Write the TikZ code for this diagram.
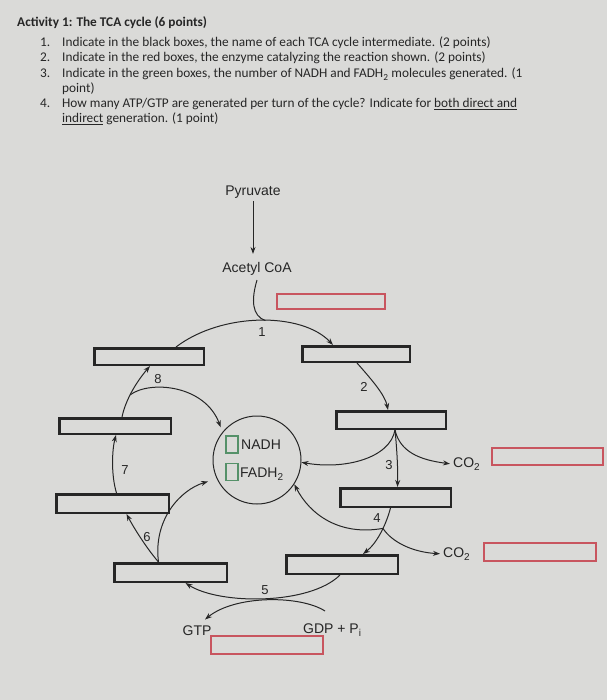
\documentclass[tikz,border=0pt]{standalone}
\usepackage{fontspec}
\setmainfont{Carlito}
\newfontfamily\hv{Liberation Sans}
\usetikzlibrary{arrows.meta}
\definecolor{bg}{RGB}{218,218,216}
\definecolor{ink}{RGB}{38,38,38}
\definecolor{redb}{RGB}{200,85,95}
\definecolor{greenb}{RGB}{85,145,105}
\newcommand{\lowsub}[1]{\raisebox{-0.45ex}{\fontsize{10}{10}\selectfont #1}}
\begin{document}
\begin{tikzpicture}[x=1pt,y=-1pt,
  hdr/.style={anchor=base west, inner sep=0pt, font=\fontsize{13.3}{15}\selectfont, text=ink},
  bx/.style 2 args={draw=ink, line width=2.5pt, inner sep=0pt, minimum width=#1, minimum height=#2},
  rbx/.style 2 args={draw=redb, line width=2.2pt, inner sep=0pt, minimum width=#1, minimum height=#2},
  gbx/.style={draw=greenb, line width=1.8pt, inner sep=0pt, minimum width=12pt, minimum height=17pt},
  txt/.style={font=\hv\fontsize{14}{16}\selectfont, text=ink},
  lab/.style={font=\hv\fontsize{13}{15}\selectfont, text=ink, inner sep=1pt},
  arr/.style={draw=ink, line width=1pt, -{Stealth[length=7pt,width=5pt]}},
  ln/.style={draw=ink, line width=1pt}]
\fill[bg] (0,0) rectangle (607,700);
\useasboundingbox (0,0) rectangle (607,700);

% header
\node[hdr, font=\bfseries\fontsize{13.3}{15}\selectfont] (title) at (17,27) {Activity 1: The TCA cycle (6 points)};
\node[hdr] (n1) at (40,47) {1.};
\node[hdr] (t1) at (62,47) {Indicate in the black boxes, the name of each TCA cycle intermediate. (2 points)};
\node[hdr] (n2) at (40,62) {2.};
\node[hdr] (t2) at (62,62) {Indicate in the red boxes, the enzyme catalyzing the reaction shown. (2 points)};
\node[hdr] (n3) at (40,78) {3.};
\node[hdr] (t3) at (62,78) {Indicate in the green boxes, the number of NADH and FADH\textsubscript{2} molecules generated. (1};
\node[hdr] (t3b) at (62,93) {point)};
\node[hdr] (n4) at (40,108) {4.};
\node[hdr] (t4) at (62,108) {How many ATP/GTP are generated per turn of the cycle? Indicate for \underline{both direct and}};
\node[hdr] (t4b) at (62,123) {\underline{indirect} generation. (1 point)};

% texts
\node[txt] (pyr) at (253,192) {Pyruvate};
\node[txt] (acoa) at (257,269) {Acetyl CoA};

% black boxes
\node[bx={109.5pt}{16.5pt}] (oaa) at (149,356.5) {};
\node[bx={107.5pt}{15.5pt}] (cit) at (356,354) {};
\node[bx={109.5pt}{17.5pt}] (icit) at (391,420) {};
\node[bx={110.5pt}{18.5pt}] (akg) at (395.5,497.5) {};
\node[bx={111.5pt}{18.5pt}] (scoa) at (342,564.5) {};
\node[bx={112.5pt}{18.5pt}] (succ) at (170.5,572.5) {};
\node[bx={112.5pt}{18.5pt}] (fum) at (112.5,503.5) {};
\node[bx={111.5pt}{15.5pt}] (mal) at (115,426) {};

% red boxes
\node[rbx={108pt}{15pt}] (r1) at (331,301.5) {};
\node[rbx={111pt}{17pt}] (r2) at (547.5,456.5) {};
\node[rbx={112pt}{18pt}] (r3) at (540,552) {};
\node[rbx={112pt}{18pt}] (r4) at (267,645) {};

% circle with green boxes
\node[circle, draw=ink, line width=1pt, minimum size=88pt, inner sep=0pt] (circ) at (257,460) {};
\node[gbx] (g1) at (232,444.5) {};
\node[gbx] (g2) at (232,472) {};
\node[txt, anchor=base west, inner sep=0pt] (nadh) at (241,449) {NADH};
\node[txt, anchor=base west, inner sep=0pt] (fadh) at (240,477) {FADH\lowsub{2}};

% CO2, GTP, GDP
\node[txt, anchor=base west, inner sep=3pt] (co2a) at (450,467) {CO\lowsub{2}};
\node[txt, anchor=base west, inner sep=3pt] (co2b) at (440,557) {CO\lowsub{2}};
\node[txt] (gtp) at (197,631) {GTP};
\node[txt, anchor=base west, inner sep=0pt] (gdp) at (303,633) {GDP + P\lowsub{i}};

% step labels
\node[lab] (l1) at (262,332) {1};
\node[lab] (l2) at (364,387) {2};
\node[lab] (l3) at (389,465) {3};
\node[lab] (l4) at (377,518) {4};
\node[lab] (l5) at (265,590) {5};
\node[lab] (l6) at (147,537) {6};
\node[lab] (l7) at (125,470) {7};
\node[lab] (l8) at (158,379) {8};

% pyruvate -> acetyl CoA
\draw[arr, shorten >=5pt, shorten <=-1pt] (pyr.south) -- (pyr.south |- acoa.north);

% step 1
\draw[arr] ([xshift=27pt]oaa.north) .. controls (222,312) and (302,312) .. ([xshift=-23pt]cit.north) coordinate[pos=0.53] (j1);
\draw[ln] ([yshift=-1pt]acoa.south) .. controls (251,300) and (252,316) .. (j1);

% step 2
\draw[arr] ([xshift=1pt]cit.south) .. controls (372,380) and (385,395) .. ([xshift=-3pt]icit.north);

% step 3
\coordinate (b3) at ([xshift=4pt]icit.south);
\draw[arr] (b3) .. controls (397,450) and (398,470) .. ([xshift=2pt]akg.north);
\draw[arr] (b3) .. controls (390,458) and (345,470) .. (circ.-3);
\draw[arr] (b3) .. controls (400,452) and (420,460) .. (co2a.west);

% step 4
\draw[arr] ([xshift=-5pt]akg.south) .. controls (386,525) and (377,543) .. ([xshift=21pt]scoa.north) coordinate[pos=0.4] (b4);
\draw[arr] (b4) .. controls (340,536) and (310,515) .. (circ.-33);
\draw[arr] (b4) .. controls (392,542) and (412,552) .. (co2b.west);

% step 5
\coordinate (g5s) at (325,611);
\draw[arr] ([xshift=-2pt]scoa.south) .. controls (310,605) and (220,605) .. ([xshift=15pt]succ.south);
\draw[arr] (g5s) .. controls (300,595) and (235,595) .. ([xshift=8pt,yshift=3pt]gtp.north);

% step 6
\coordinate (b6) at ([xshift=-12pt]succ.north);
\draw[arr] (b6) .. controls (148,550) and (135,530) .. ([xshift=14pt]fum.south);
\draw[arr, shorten >=9pt] (b6) .. controls (153,520) and (180,490) .. (circ.-155);

% step 7
\draw[arr] ([xshift=4pt]fum.north) .. controls (111,475) and (112,450) .. ([xshift=1pt]mal.south);

% step 8
\draw[arr] ([xshift=7pt]mal.north) .. controls (126,398) and (138,380) .. ([xshift=1pt]oaa.south) coordinate[pos=0.4] (b8);
\draw[arr, shorten >=5pt] (b8) .. controls (150,380) and (205,385) .. (circ.141);
\end{tikzpicture}
\end{document}
